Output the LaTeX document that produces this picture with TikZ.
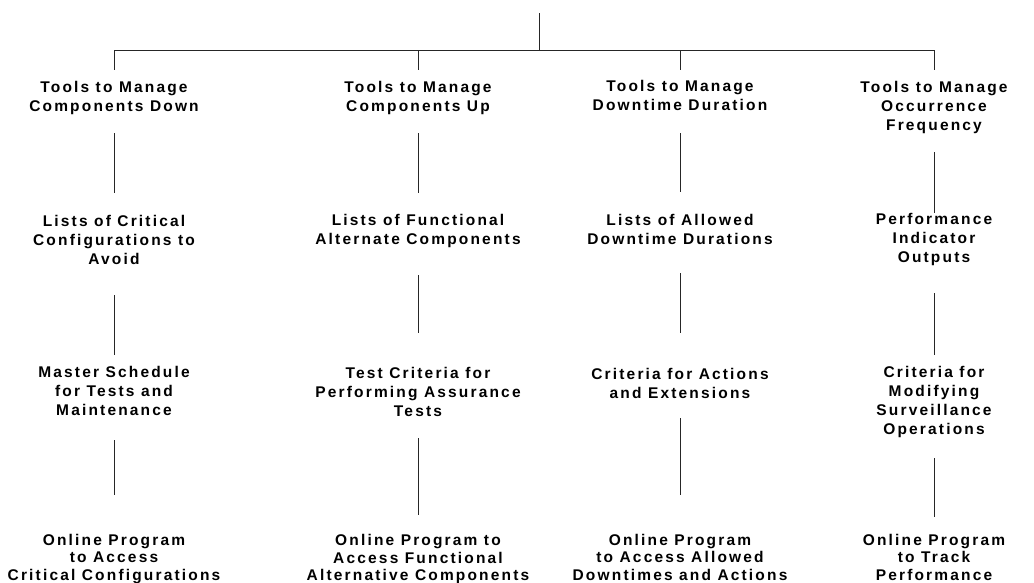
\documentclass[tikz,border=0pt]{standalone}
\usepackage{fontspec}
\setmainfont{Liberation Sans}[LetterSpace=14]
\begin{document}
\begin{tikzpicture}[x=1pt,y=-1pt,
  lbl/.style={align=center,inner sep=0pt,font=\fontsize{15.5}{19}\selectfont\bfseries},
  lblb/.style={align=center,inner sep=0pt,font=\fontsize{15.5}{17.5}\selectfont\bfseries},
  conn/.style={line width=0.8pt,draw=black!85}]
\useasboundingbox (0,0) rectangle (1034,582);
% root bus
\coordinate (root) at (539,13);
\coordinate (bus) at (539,50);
% level 1
\node[lbl] (a1) at (114,97.5) {Tools to Manage\\Components Down};
\node[lbl] (b1) at (418,97.5) {Tools to Manage\\Components Up};
\node[lbl] (c1) at (680,95.5) {Tools to Manage\\Downtime Duration};
\node[lbl] (d1) at (934,107.5) {Tools to Manage\\Occurrence\\Frequency};
% level 2
\node[lbl] (a2) at (114,240) {Lists of Critical\\Configurations to\\Avoid};
\node[lbl] (b2) at (418,231) {Lists of Functional\\Alternate Components};
\node[lbl] (c2) at (680,229.5) {Lists of Allowed\\Downtime Durations};
\node[lbl] (d2) at (934,239.5) {Performance\\Indicator\\Outputs};
% level 3
\node[lbl] (a3) at (114,391) {Master Schedule\\for Tests and\\Maintenance};
\node[lbl] (b3) at (418,392) {Test Criteria for\\Performing Assurance\\Tests};
\node[lbl] (c3) at (680,383) {Criteria for Actions\\and Extensions};
\node[lbl] (d3) at (934,402) {Criteria for\\Modifying\\Surveillance\\Operations};
% level 4
\node[lblb] (a4) at (114,559) {Online Program\\to Access\\Critical Configurations};
\node[lblb] (b4) at (418,559) {Online Program to\\Access Functional\\Alternative Components};
\node[lblb] (c4) at (680,557) {Online Program\\to Access Allowed\\Downtimes and Actions};
\node[lblb] (d4) at (934,557) {Online Program\\to Track\\Performance};
% connectors
\draw[conn] (root) -- (bus);
\draw[conn,shorten >=27.5pt] (bus) -| (a1.center);
\draw[conn,shorten >=27.5pt] (bus) -| (b1.center);
\draw[conn,shorten >=25.5pt] (bus) -| (c1.center);
\draw[conn,shorten >=37.5pt] (bus) -| (d1.center);
\draw[conn,shorten <=35.5pt,shorten >=47pt] (a1.center) -- (a2.center);
\draw[conn,shorten <=35.5pt,shorten >=38pt] (b1.center) -- (b2.center);
\draw[conn,shorten <=37.5pt,shorten >=37.5pt] (c1.center) -- (c2.center);
\draw[conn,shorten <=44.5pt,shorten >=26.5pt] (d1.center) -- (d2.center);
\draw[conn,shorten <=55pt,shorten >=36pt] (a2.center) -- (a3.center);
\draw[conn,shorten <=44pt,shorten >=59pt] (b2.center) -- (b3.center);
\draw[conn,shorten <=43.5pt,shorten >=50pt] (c2.center) -- (c3.center);
\draw[conn,shorten <=53.5pt,shorten >=47pt] (d2.center) -- (d3.center);
\draw[conn,shorten <=49pt,shorten >=64pt] (a3.center) -- (a4.center);
\draw[conn,shorten <=46pt,shorten >=44pt] (b3.center) -- (b4.center);
\draw[conn,shorten <=35pt,shorten >=62pt] (c3.center) -- (c4.center);
\draw[conn,shorten <=56pt,shorten >=40pt] (d3.center) -- (d4.center);
\end{tikzpicture}
\end{document}
